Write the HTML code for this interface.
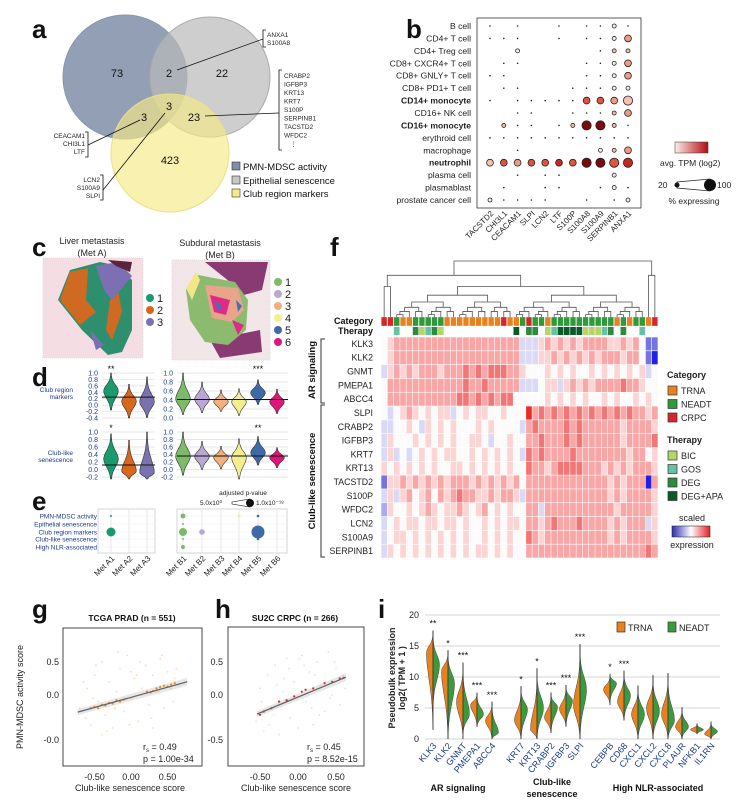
<!DOCTYPE html>
<html><head><meta charset="utf-8">
<style>
html,body{margin:0;padding:0;background:#fff;}
svg{display:block;font-family:"Liberation Sans",Arial,sans-serif;}
</style></head>
<body>
<svg id="fig" width="741" height="802" viewBox="0 0 741 802" xmlns="http://www.w3.org/2000/svg">
<rect x="0" y="0" width="741" height="802" fill="#fff"/>
<!-- panel letters -->
<g font-weight="bold" font-size="26" fill="#111">
<text x="32" y="38">a</text>
<text x="406" y="38">b</text>
<text x="32" y="256">c</text>
<text x="330" y="256">f</text>
<text x="32" y="386">d</text>
<text x="32" y="510">e</text>
<text x="32" y="618">g</text>
<text x="215" y="618">h</text>
<text x="378" y="618">i</text>
</g>

<!-- Panel a: Venn -->
<g id="venn">
<circle cx="125" cy="77" r="62" fill="#7f8ea8" fill-opacity="0.85" stroke="#8a96ab"/>
<circle cx="210" cy="77" r="60" fill="#b9b9b9" fill-opacity="0.7" stroke="#aaa"/>
<circle cx="170" cy="153" r="59" fill="#f6ea86" fill-opacity="0.65" stroke="#eadf88"/>
<g font-size="11" text-anchor="middle" fill="#111">
<text x="117" y="77">73</text>
<text x="169" y="77">2</text>
<text x="222" y="77">22</text>
<text x="144" y="121">3</text>
<text x="169" y="110">3</text>
<text x="194" y="121">23</text>
<text x="170" y="164">423</text>
</g>
<g stroke="#111" stroke-width="0.8" fill="none">
<line x1="177" y1="70" x2="263" y2="39"/><path d="M266,30 H263 V47 H266"/>
<line x1="205" y1="116" x2="279" y2="113"/><path d="M282,70 H279 V150 H282"/>
<line x1="140" y1="120" x2="88" y2="145"/><path d="M85,132 H88 V157 H85"/>
<line x1="165" y1="113" x2="103" y2="190"/><path d="M100,175 H103 V200 H100"/>
</g>
<g font-size="6.5" fill="#222">
<text x="267" y="37">ANXA1</text><text x="267" y="45">S100A8</text>
<text x="284" y="78">CRABP2</text><text x="284" y="86.5">IGFBP3</text><text x="284" y="95">KRT13</text><text x="284" y="103.5">KRT7</text><text x="284" y="112">S100P</text><text x="284" y="120.5">SERPINB1</text><text x="284" y="129">TACSTD2</text><text x="284" y="137.5">WFDC2</text><text x="290" y="146">⋮</text>
<g text-anchor="end"><text x="85" y="138">CEACAM1</text><text x="85" y="146">CHI3L1</text><text x="85" y="154">LTF</text>
<text x="100" y="182">LCN2</text><text x="100" y="190">S100A9</text><text x="100" y="198">SLPI</text></g>
</g>
<g font-size="9.5" fill="#111">
<rect x="232" y="162" width="8" height="8" fill="#7f8ea8" stroke="#333" stroke-width="0.6"/><text x="243" y="170">PMN-MDSC activity</text>
<rect x="232" y="176" width="8" height="8" fill="#c6c6c6" stroke="#333" stroke-width="0.6"/><text x="243" y="184">Epithelial senescence</text>
<rect x="232" y="189" width="8" height="8" fill="#f6ea86" stroke="#333" stroke-width="0.6"/><text x="243" y="197">Club region markers</text>
</g>
</g>

<!-- Panel b -->
<g id="dotplot">
<rect x="477" y="18" width="164" height="190" fill="none" stroke="#333" stroke-width="0.8"/>
<g id="bRows" font-size="8.6" text-anchor="end" fill="#222"></g>
<g id="bCols" font-size="8" fill="#222"></g>
<g id="bDots"></g>
<defs><linearGradient id="tpm" x1="0" x2="1"><stop offset="0" stop-color="#fbeeea"/><stop offset="1" stop-color="#b30d10"/></linearGradient>
<linearGradient id="scl" x1="0" x2="1"><stop offset="0" stop-color="#2a2ab0"/><stop offset="0.5" stop-color="#fff"/><stop offset="1" stop-color="#e61e24"/></linearGradient></defs>
<rect x="675" y="142" width="33" height="11" fill="url(#tpm)" stroke="#333" stroke-width="0.5"/>
<text x="660" y="166" font-size="8.5" fill="#222">avg. TPM (log2)</text>
<text x="658" y="188" font-size="8.5" fill="#222">20</text>
<path d="M677,182 L710,179 L710,191 L677,188 Z" fill="none" stroke="#222" stroke-width="0.7"/>
<circle cx="677" cy="185" r="2.5" fill="#111"/>
<circle cx="710" cy="185" r="6" fill="#111"/>
<text x="717" y="188" font-size="8.5" fill="#222">100</text>
<text x="694" y="204" font-size="8.5" fill="#222" text-anchor="middle">% expressing</text>
</g>

<!-- Panel c -->
<g id="tissue">
<g font-size="9" fill="#222" text-anchor="middle">
<text x="92" y="244">Liver metastasis</text><text x="92" y="256">(Met A)</text>
<text x="220" y="246">Subdural metastasis</text><text x="220" y="258">(Met B)</text>
</g>
<rect x="43" y="258" width="100" height="100" fill="#f4dde3" stroke="#ddd" stroke-dasharray="1,1"/>
<path d="M58,300 L70,270 L100,262 L118,266 L132,280 L132,330 L122,352 L108,355 L82,330 Z" fill="#2e8f6e"/>
<path d="M60,300 L70,272 L88,268 L86,300 L96,312 L80,325 Z M110,300 L118,290 L122,312 L112,340 L106,330 Z" fill="#d06a22"/>
<path d="M96,266 L118,262 L132,276 L112,300 L104,290 Z M90,330 L104,345 L96,350 Z" fill="#7d6fb4"/>
<path d="M108,260 L132,262 L130,272 L116,266 Z" fill="#5a2440"/>
<rect x="172" y="260" width="98" height="100" fill="#f2e6e8" stroke="#ddd" stroke-dasharray="1,1"/>
<path d="M205,262 L268,262 L262,290 L244,295 L230,282 Z M210,340 L260,330 L262,352 L220,358 Z" fill="#8a3a72"/>
<path d="M186,290 L198,275 L235,282 L248,300 L246,330 L228,345 L205,342 L190,320 Z" fill="#8cba6e"/>
<path d="M186,288 L196,272 L200,280 L192,300 Z" fill="#f3e68a"/>
<path d="M205,285 L238,288 L244,310 L232,322 L212,318 Z" fill="#e8a58a"/>
<path d="M210,295 L230,300 L226,315 L214,312 Z M232,320 L244,325 L238,335 Z" fill="#e02a8a"/>
<path d="M215,300 L222,306 L218,312 Z M236,300 L242,306 L238,312 Z" fill="#4a6eb0"/>
<g id="cLeg" font-size="11" fill="#222"></g>
</g>

<!-- Panel d -->
<g id="violins">
<g font-size="6.5" fill="#1a3a8a" text-anchor="end">
<text x="73" y="392">Club region</text><text x="73" y="399">markers</text>
<text x="73" y="455">Club-like</text><text x="73" y="462">senescence</text>
</g>
</g>
<!-- Panel e -->
<g id="bubbles">
<text x="243" y="495" font-size="6.5" fill="#222" text-anchor="middle">adjusted p-value</text>
<text x="200" y="505" font-size="6.5" fill="#222">5.0x10⁰</text>
<path d="M232,502 L250,499 L250,507 L232,504 Z" fill="none" stroke="#111" stroke-width="0.6"/>
<circle cx="250" cy="503" r="4" fill="#111"/>
<text x="256" y="505" font-size="6.5" fill="#222">1.0x10⁻¹⁸</text>
</g>

<!-- Panel f -->
<g id="heat">
<text x="373" y="324" font-size="9" font-weight="bold" text-anchor="end" fill="#111">Category</text>
<text x="373" y="334" font-size="9" font-weight="bold" text-anchor="end" fill="#111">Therapy</text>
<path d="M325,339 H321 V403 H325" fill="none" stroke="#333" stroke-width="1"/>
<path d="M325,405 H321 V557 H325" fill="none" stroke="#333" stroke-width="1"/>
<text transform="translate(315,370) rotate(-90)" font-size="9.5" font-weight="bold" text-anchor="middle" fill="#111">AR signaling</text>
<text transform="translate(315,481) rotate(-90)" font-size="9.5" font-weight="bold" text-anchor="middle" fill="#111">Club-like senescence</text>
<g id="hRows" font-size="8.8" text-anchor="end" fill="#222"></g>
<g id="hCells"></g><g id="hDend" stroke="#555" stroke-width="0.8" fill="none"></g>
<g id="hLeg" font-size="9" fill="#222">
<text x="667" y="378" font-weight="bold">Category</text>
<text x="667" y="443" font-weight="bold">Therapy</text>
<text x="692" y="521" text-anchor="middle">scaled</text>
<rect x="672" y="526" width="38" height="11" fill="url(#scl)" stroke="#333" stroke-width="0.6"/>
<text x="692" y="548" text-anchor="middle">expression</text>
</g>
</g>

<!-- Panel g/h -->
<g id="scatters">
<text x="132" y="621" font-size="8.5" font-weight="bold" text-anchor="middle" fill="#111">TCGA PRAD (n = 551)</text>
<text x="295" y="621" font-size="8.5" font-weight="bold" text-anchor="middle" fill="#111">SU2C CRPC (n = 266)</text>
<rect x="63" y="628" width="139" height="138" fill="none" stroke="#333" stroke-width="0.9"/>
<rect x="228" y="627" width="136" height="139" fill="none" stroke="#333" stroke-width="0.9"/>
<text transform="translate(23,697) rotate(-90)" font-size="9" text-anchor="middle" fill="#222">PMN-MDSC activity score</text>
<text x="130" y="791" font-size="9" text-anchor="middle" fill="#222">Club-like senescence score</text>
<text x="296" y="791" font-size="9" text-anchor="middle" fill="#222">Club-like senescence score</text>
<g font-size="9" fill="#222">
<text x="143" y="750">r<tspan font-size="6" dy="2">s</tspan><tspan dy="-2"> = 0.49</tspan></text>
<text x="143" y="762">p = 1.00e-34</text>
<text x="307" y="750">r<tspan font-size="6" dy="2">s</tspan><tspan dy="-2"> = 0.45</tspan></text>
<text x="307" y="762">p = 8.52e-15</text>
</g>
<g id="gPlot"></g><g id="hPlot"></g>
</g>

<!-- Panel i -->
<g id="split">
<text transform="translate(395,678) rotate(-90)" font-size="9" font-weight="bold" text-anchor="middle" fill="#222">Pseudobulk expression</text>
<text transform="translate(405,678) rotate(-90)" font-size="9" font-weight="bold" text-anchor="middle" fill="#222">log2( TPM + 1 )</text>
<g font-size="9" font-weight="bold" text-anchor="middle" fill="#111">
<text x="458" y="791">AR signaling</text>
<text x="552" y="785">Club-like</text><text x="552" y="797">senescence</text>
<text x="658" y="791">High NLR-associated</text>
</g>
<rect x="617" y="622" width="8" height="10" fill="#e8821e" stroke="#333" stroke-width="0.7"/>
<text x="628" y="631" font-size="9" fill="#222">TRNA</text>
<rect x="668" y="622" width="8" height="10" fill="#3c9a3e" stroke="#333" stroke-width="0.7"/>
<text x="679" y="631" font-size="9" fill="#222">NEADT</text>
<g id="iPlot"></g>
</g>
</svg>

<script>
var NS='http://www.w3.org/2000/svg';
function mk(tag,attrs,parent){var e=document.createElementNS(NS,tag);for(var k in attrs)e.setAttribute(k,attrs[k]);(parent||document.getElementById('fig')).appendChild(e);return e;}

// ===== Panel b data =====
var bCells=['B cell','CD4+ T cell','CD4+ Treg cell','CD8+ CXCR4+ T cell','CD8+ GNLY+ T cell','CD8+ PD1+ T cell','CD14+ monocyte','CD16+ NK cell','CD16+ monocyte','erythroid cell','macrophage','neutrophil','plasma cell','plasmablast','prostate cancer cell'];
bCells.splice(0,0);
var bCellsAll=['B cell','CD4+ T cell','CD4+ Treg cell','CD8+ CXCR4+ T cell','CD8+ GNLY+ T cell','CD8+ PD1+ T cell','CD14+ monocyte','CD16+ NK cell','CD16+ monocyte','erythroid cell','macrophage','neutrophil','plasma cell','plasmablast','prostate cancer cell'];
var bBold=['CD14+ monocyte','CD16+ monocyte','neutrophil'];
var bGenes=['TACSTD2','CHI3L1','CEACAM1','SLPI','LCN2','LTF','S100P','S100A8','S100A9','SERPINB1','ANXA1'];
var bSize=['10100101121','11100101123','00200000122','01100001123','11000001123','01100011122','10111113334','00110011123','02110124421','11111111111','00100000223','33333334444','00101100020','01001100121','21111001012'];
var bColor=['00000000000','00000000002','00000000011','00000000002','00000000002','00000000000','00000003321','00000000012','01000015510','00000000000','00000000012','13233435534','00000000000','00000000000','00000000000'];
var bPal=['#fbeee9','#f5c0ad','#f09a80','#e2533e','#c9261d','#7a0a0e'];
var bRad=[0,0.8,2,3.4,4.6,5.6];
function bx(j){return 490+j*13.8;}
function by(i){return 26+i*(174/(bCellsAll.length-1));}
(function(){
 var gr=document.getElementById('bRows'),gc=document.getElementById('bCols'),gd=document.getElementById('bDots');
 bCellsAll.forEach(function(c,i){
  var t=mk('text',{x:471,y:by(i)+3},gr);t.textContent=c;
  if(bBold.indexOf(c)>=0)t.setAttribute('font-weight','bold');
  
  
  for(var j=0;j<bGenes.length;j++){
   var s=+bSize[i][j],col=+bColor[i][j];if(!s)continue;
   var d=mk('circle',{cx:bx(j),cy:by(i),r:bRad[s],fill:s==1?'#222':bPal[col],stroke:'#222','stroke-width':s==1?0:0.8},gd);
   
   
  }
 });
 bGenes.forEach(function(g,j){
  var t=mk('text',{transform:'translate('+(bx(j)+4)+',214) rotate(-45)','text-anchor':'end'},gc);t.textContent=g;
  
  
 });
})();

// ===== Panel c legend =====
var cLabelsA=['1','2','3'],cColA=['#1a9a6e','#d8661b','#7a72b0'];
var cLabelsB=['1','2','3','4','5','6'],cColB=['#7dba6a','#b9a8d2','#f2b07e','#f5ee90','#3e6aa8','#e0147a'];
(function(){var g=document.getElementById('cLeg');
 cLabelsA.forEach(function(l,i){var c=mk('circle',{cx:150,cy:298+i*12,r:4,fill:cColA[i]},g);
  
  
  var t=mk('text',{x:157,y:302+i*12},g);t.textContent=l;
  
  });
 cLabelsB.forEach(function(l,i){var c=mk('circle',{cx:278,cy:282+i*12,r:4,fill:cColB[i]},g);
  
  
  var t=mk('text',{x:285,y:286+i*12},g);t.textContent=l;
  
  });
})();

// ===== Panel d data =====
var dTopAMed=[0.45,0.12,0.1],dTopAMin=[-0.15,-0.4,-0.38],dTopAMax=[1.0,0.65,0.88],dTopALine=0.25;
var dTopBMed=[0.42,0.42,0.36,0.36,0.56,0.36],dTopBMin=[0.08,0.12,0.15,0.06,0.3,0.1],dTopBMax=[1.0,0.8,0.62,0.65,0.85,0.64],dTopBLine=0.41;
var dBotAMed=[0.28,-0.05,-0.1],dBotAMin=[-0.25,-0.25,-0.25],dBotAMax=[0.95,0.78,1.0],dBotALine=0.12;
var dBotBMed=[0.35,0.35,0.32,0.32,0.45,0.32],dBotBMin=[-0.15,0.0,0.02,-0.25,0.12,0.05],dBotBMax=[1.0,0.75,0.62,0.82,0.88,0.58],dBotBLine=0.36;
var dTicksA1=['1.0','0.8','0.6','0.4','0.2','0.0','-0.2','-0.4'],dTicksB1=['1.0','0.8','0.6','0.4','0.2','0.0'];
var dTicks2=['1.0','0.8','0.6','0.4','0.2','0.0','-0.2'];
var dStars=[[0,0,'**'],[1,4,'***'],[2,0,'*'],[3,4,'**']];
var dXA=[111,129,147],dXB=[183,202,221,239,258,277];
function violin(g,cx,yf,med,mn,mx,w,fill){
 var pts=[],n=24,i,v,hw;
 for(i=0;i<=n;i++){v=mn+(mx-mn)*i/n;var s=v<med?(med-mn)*0.55:(mx-med)*0.45;hw=w*Math.exp(-Math.pow((v-med)/s,2));pts.push([cx+hw+0.3,yf(v)]);}
 var d='M'+pts.map(function(p){return p[0].toFixed(1)+','+p[1].toFixed(1);}).join(' L');
 for(i=n;i>=0;i--){v=mn+(mx-mn)*i/n;var s2=v<med?(med-mn)*0.55:(mx-med)*0.45;hw=w*Math.exp(-Math.pow((v-med)/s2,2));d+=' L'+(cx-hw-0.3).toFixed(1)+','+yf(v).toFixed(1);}
 return mk('path',{d:d+'Z',fill:fill,stroke:'#333','stroke-width':0.6},g);
}
(function(){var root=document.getElementById('violins');
 var panels=[
  {x0:102,x1:155,lx:98,top:373,bot:418,ticks:dTicksA1,hi:1.0,lo:-0.4,med:dTopAMed,mn:dTopAMin,mx:dTopAMax,line:dTopALine,xs:dXA,col:cColA},
  {x0:177,x1:288,lx:173,top:373,bot:418,ticks:dTicksB1,hi:1.0,lo:0.0,med:dTopBMed,mn:dTopBMin,mx:dTopBMax,line:dTopBLine,xs:dXB,col:cColB},
  {x0:102,x1:155,lx:98,top:432,bot:477,ticks:dTicks2,hi:1.0,lo:-0.2,med:dBotAMed,mn:dBotAMin,mx:dBotAMax,line:dBotALine,xs:dXA,col:cColA},
  {x0:177,x1:288,lx:173,top:432,bot:477,ticks:dTicks2,hi:1.0,lo:-0.2,med:dBotBMed,mn:dBotBMin,mx:dBotBMax,line:dBotBLine,xs:dXB,col:cColB}];
 panels.forEach(function(p,pi){
  var g=mk('g',{},root);
  
  
  var yf=function(v){return p.bot-(v-p.lo)/(p.hi-p.lo)*(p.bot-p.top);};
  p.ticks.forEach(function(t){var v=parseFloat(t),y=yf(v);
   var l=mk('line',{x1:p.x0,x2:p.x1,y1:y,y2:y,stroke:'#ddd','stroke-width':0.7},g);
   
   
   var tx=mk('text',{x:p.lx,y:y+2.5,'font-size':7,'text-anchor':'end',fill:'#1a3a8a'},g);tx.textContent=t;
   
   });
  p.med.forEach(function(m,k){var v=violin(g,p.xs[k],yf,m,p.mn[k],p.mx[k],7,p.col[k]);
   
   });
  var hl=mk('line',{x1:p.x0,x2:p.x1,y1:yf(p.line),y2:yf(p.line),stroke:'#111','stroke-width':1},g);
  
  
 });
 dStars.forEach(function(s){var p=panels[s[0]];var t=mk('text',{x:p.xs[s[1]],y:p.top-1,'font-size':9,'text-anchor':'middle',fill:'#111'},root);t.textContent=s[2];
  
  });
})();

// ===== Panel e data =====
var eRows=['PMN-MDSC activity','Epithelial senescence','Club region markers','Club-like senescence','High NLR-associated'];
var eColsA=['Met A1','Met A2','Met A3'],eColsB=['Met B1','Met B2','Met B3','Met B4','Met B5','Met B6'];
var eBubA=[[0,0,1],[0,2,4.5]];
var eBubB=[[0,0,2.5],[0,1,1],[0,2,4],[0,3,1],[0,4,2],[1,2,2.8],[3,0,1.5],[4,0,1.3],[4,2,6.5],[4,3,1.3]];
var eRowY=[516,524,532,539,547];
(function(){var root=document.getElementById('bubbles');
 function grid(x0,x1,xs,cols,bub,pal){
  var g=mk('g',{},root);
  
  
  var fr=mk('rect',{x:x0,y:509,width:x1-x0,height:44,fill:'none',stroke:'#ccc','stroke-width':0.8},g);
  
  
  xs.forEach(function(x){var l=mk('line',{x1:x,x2:x,y1:509,y2:553,stroke:'#e2e2e2','stroke-width':0.8},g);});
  eRowY.forEach(function(y){var l=mk('line',{x1:x0,x2:x1,y1:y,y2:y,stroke:'#ececec','stroke-width':0.6},g);});
  bub.forEach(function(b){var c=mk('circle',{cx:xs[b[0]],cy:eRowY[b[1]],r:b[2],fill:pal[b[0]]},g);});
  cols.forEach(function(c,i){var t=mk('text',{transform:'translate('+(xs[i]+4)+',559) rotate(-45)','font-size':8,'text-anchor':'end',fill:'#222'},g);t.textContent=c;});
 }
 grid(98,155,dXA,eColsA,eBubA,cColA);
 grid(177,287,dXB,eColsB,eBubB,cColB);
 eRows.forEach(function(r,i){var t=mk('text',{x:97,y:eRowY[i]+2.5,'font-size':6.5,'text-anchor':'end',fill:'#1a3a8a'},root);t.textContent=r;});
})();

// ===== Panel f data =====
var hGenes=['KLK3','KLK2','GNMT','PMEPA1','ABCC4','SLPI','CRABP2','IGFBP3','KRT7','KRT13','TACSTD2','S100P','WFDC2','LCN2','S100A9','SERPINB1'];
var hVals=[
'45666666666'+'66666666666'+'33356565656'+'66655656411',
'45666666666'+'66666666666'+'33355656565'+'65666566410',
'35656566656'+'66767677766'+'54445454544'+'54545454534',
'46666666666'+'66766766666'+'33345535656'+'56666766544',
'46666666666'+'67767676774'+'44445454545'+'44545445454',
'43456545455'+'34545544544'+'48676767676'+'76767676656',
'33445435454'+'54445454444'+'36766667676'+'66666566665',
'35444545454'+'54455434454'+'46676667676'+'66666566667',
'35343454545'+'54454545454'+'37676666766'+'66666656645',
'54545454544'+'55454545454'+'47665677776'+'66565656665',
'15565656565'+'66656565656'+'46666666666'+'66656566606',
'35356456465'+'67665565665'+'36666666666'+'66656566665',
'25445456545'+'56545645454'+'46636666666'+'66665666665',
'34545545545'+'54544545455'+'46656766676'+'66656566635',
'34554545454'+'54544545454'+'47656666666'+'66656566665',
'35454545454'+'54545545454'+'46666666666'+'66666666676'];
var hCategory='RRGOOGGGGGOOOOOOOOOROOGRGGOGGGGGGGGGGOGOGGOR';
var hTherapy='--G--ELGEL-----------D-EE-LGDDDDLLLGE-E--G--';
var hCatNames=['TRNA','NEADT','CRPC'],hCatKeys=['O','G','R'],hCatCol=['#e8821e','#2f9a3a','#d7262b'];
var hTherNames=['BIC','GOS','DEG','DEG+APA'],hTherKeys=['L','G','E','D'],hTherCol=['#b5d56a','#66c2a5','#2e8b3e','#0b5a2a'];
var hScale=['#2020e8','#7474e2','#aaaaee','#dadaf6','#fbfbfb','#fcd4d4','#f8a6a6','#f27676','#ec2a2a'];
var hTopSplits=[[0,41,42,43],[0,1,2,41],[2,20,21,41]];
var hN=44,hX0=381,hX1=658,hY0=337,hY1=558;
function hx(j){return hX0+j*(hX1-hX0)/hN;}
function hy(i){return hY0+i*(hY1-hY0)/hGenes.length;}
(function(){
 var gc=document.getElementById('hCells'),gr=document.getElementById('hRows'),cw=(hX1-hX0)/hN,rh=(hY1-hY0)/hGenes.length;
 hGenes.forEach(function(g,i){var t=mk('text',{x:373,y:hy(i)+rh/2+3},gr);t.textContent=g;
  for(var j=0;j<hN;j++){var c=mk('rect',{x:hx(j)+0.3,y:hy(i)+0.3,width:cw-0.6,height:rh-0.6,fill:hScale[+hVals[i][j]]},gc);
   
   }
 });
 for(var j=0;j<hN;j++){
  var k=hCatKeys.indexOf(hCategory[j]);
  var c=mk('rect',{x:hx(j)+0.3,y:317,width:cw-0.6,height:9,fill:hCatCol[k],stroke:'#fff','stroke-width':0.3},gc);
  
  
  var tk=hTherKeys.indexOf(hTherapy[j]);
  if(tk>=0){var t2=mk('rect',{x:hx(j)+0.3,y:327,width:cw-0.6,height:8,fill:hTherCol[tk]},gc);
   
   }
 }
 // dendrogram
 var gd=document.getElementById('hDend');
 function seg(d){var p=mk('path',{d:d},gd);}
 var topMap={};hTopSplits.forEach(function(s){topMap[s[0]+'-'+s[3]]=s;});
 function node(lo,hi,y){
  if(lo==hi)return hx(lo)+cw/2;
  var s=topMap[lo+'-'+hi],m=s?s[1]:Math.floor((lo+hi)/2);
  var cy=y+(317-y)*0.22+2;
  var a=node(lo,m,cy),b=node(m+1,hi,cy);
  var ya=(lo==m)?317:cy,yb=(m+1==hi)?317:cy;
  seg('M'+a+','+ya+' V'+y+' H'+b+' V'+yb);
  return (a+b)/2;
 }
 node(0,hN-1,261);
 var gl=document.getElementById('hLeg');
 hCatNames.forEach(function(n,i){var r=mk('rect',{x:668,y:386+i*13.5,width:9,height:9,fill:hCatCol[i],stroke:'#333','stroke-width':0.7},gl);
  var t=mk('text',{x:681,y:394+i*13.5},gl);t.textContent=n;});
 hTherNames.forEach(function(n,i){var r=mk('rect',{x:668,y:451+i*13.5,width:9,height:9,fill:hTherCol[i],stroke:'#333','stroke-width':0.7},gl);
  var t=mk('text',{x:681,y:459+i*13.5},gl);t.textContent=n;});
})();

// ===== Panel g / h data =====
var gCloudX=[-0.7,-0.6,-0.55,-0.5,-0.45,-0.4,-0.35,-0.3,-0.25,-0.2,-0.15,-0.1,-0.05,0,0.05,0.1,0.15,0.2,0.25,0.3,0.35,0.4,0.45,0.5,0.55,0.6,0.65,-0.62,-0.48,-0.33,-0.18,-0.02,0.12,0.28,0.42,0.58,-0.52,-0.22,0.08,0.38,-0.4,0.0,0.3,0.62,-0.65];
var gCloudY=[-0.2,0.1,-0.45,0.3,-0.1,0.5,-0.3,0.2,-0.5,0.05,0.4,-0.25,0.6,-0.05,0.25,-0.4,0.1,0.45,-0.15,0.3,0.05,0.55,-0.2,0.35,0.1,0.25,0.15,-0.35,0.45,-0.55,0.65,-0.45,0.5,-0.35,0.6,-0.1,-0.05,-0.2,0.3,0.05,-0.6,0.35,-0.5,0.4,0.2];
var gHiX=[-0.55,-0.5,-0.45,-0.4,-0.35,-0.3,-0.25,-0.2,-0.15,-0.1,0.22,0.27,0.3,0.35,0.4,0.45,0.5,0.55,0.6];
var gHiY=[-0.2,-0.18,-0.2,-0.15,-0.16,-0.12,-0.13,-0.08,-0.1,-0.07,0.05,0.04,0.06,0.1,0.12,0.14,0.13,0.16,0.18];
var gLineX=[-0.73,0.77],gLineY=[-0.26,0.2];
var hCloudX=[-0.55,-0.5,-0.45,-0.4,-0.35,-0.3,-0.25,-0.2,-0.15,-0.1,-0.05,0,0.05,0.1,0.15,0.2,0.25,0.3,0.35,0.4,0.45,0.5,0.55,0.6,-0.48,-0.32,-0.12,0.08,0.28,0.48,-0.38,-0.18,0.02,0.22,0.42,0.62,-0.28,0.18];
var hCloudY=[-0.4,0.1,-0.55,0.3,-0.2,0.45,-0.6,0.05,0.55,-0.35,0.2,-0.5,0.6,-0.1,0.35,-0.45,0.5,0.15,-0.25,0.65,0.0,0.4,-0.15,0.3,-0.1,-0.3,0.4,0.45,-0.3,0.5,-0.45,0.25,0.55,0.3,-0.05,0.1,0.15,-0.2];
var hHiX=[-0.5,-0.45,-0.35,-0.25,-0.15,-0.05,0.05,0.1,0.2,0.35,0.45,0.55,0.6];
var hHiY=[-0.3,-0.25,-0.2,-0.1,-0.08,-0.02,0.05,0.08,0.1,0.18,0.2,0.25,0.26];
var hLineX=[-0.54,0.63],hLineY=[-0.29,0.27];
var gXTicks=['-0.50','0.00','0.50'],gYTicks=['0.5','0.0','-0.0'],hYTicks=['0.5','0.0','-0.5'];
function scatter(gid,cx0,xs,cy0,ys,cloudX,cloudY,hiX,hiY,lx,ly,col,hiCol,xt,yt,ylx,frameX0,frameX1,tickYpos){
 var g=document.getElementById(gid);
 var X=function(v){return cx0+v*xs;},Y=function(v){return cy0-v*ys;};
 cloudX.forEach(function(v,i){var c=mk('circle',{cx:X(v),cy:Y(cloudY[i]),r:0.9,fill:col,'fill-opacity':0.45},g);});
 var band=mk('path',{d:'M'+X(lx[0])+','+(Y(ly[0])-3)+' L'+X(lx[1])+','+(Y(ly[1])-4)+' L'+X(lx[1])+','+(Y(ly[1])+4)+' L'+X(lx[0])+','+(Y(ly[0])+3)+'Z',fill:'#bbb','fill-opacity':0.35},g);
 
 
 hiX.forEach(function(v,i){var c=mk('circle',{cx:X(v),cy:Y(hiY[i]),r:1.1,fill:hiCol},g);});
 var l=mk('line',{x1:X(lx[0]),y1:Y(ly[0]),x2:X(lx[1]),y2:Y(ly[1]),stroke:'#666','stroke-width':1.3},g);
 
 
 xt.forEach(function(t){var tx=mk('text',{x:X(parseFloat(t)),y:780,'font-size':9,'text-anchor':'middle',fill:'#222'},g);tx.textContent=t;});
 yt.forEach(function(t,i){var tx=mk('text',{x:ylx,y:tickYpos[i]+3,'font-size':9,'text-anchor':'end',fill:'#222'},g);tx.textContent=t;});
}
scatter('gPlot',131,73,695,66,gCloudX,gCloudY,gHiX,gHiY,gLineX,gLineY,'#f7a55a','#f08a1c',gXTicks,gYTicks,59,63,202,[662,695,740]);
scatter('hPlot',298,76,695,66,hCloudX,hCloudY,hHiX,hHiY,hLineX,hLineY,'#f2a0b0','#e0243a',gXTicks,hYTicks,223,228,364,[662,695,740]);

// ===== Panel i data =====
var iGenes=['KLK3','KLK2','GNMT','PMEPA1','ABCC4','KRT7','KRT13','CRABP2','IGFBP3','SLPI','CEBPB','CD68','CXCL1','CXCL2','CXCL8','PLAUR','NFKB1','IL1RN'];
var iGeneX=[433,448,463,477,492,521,537,551,566,580,610,624,638,653,668,682,697,711];
var iTrnaMin=[1.5,0,0,2,0,0,0,1,2,0,5.5,3,0,0,0,0,0.8,0];
var iTrnaMed=[14,11,6,5.5,3,3,1.5,3.5,4.8,5.5,8,6,4,5,4,2,1.5,0.8];
var iTrnaMax=[17.5,14.3,12.3,7.5,6,8.5,11.4,7.5,8.7,15.3,10.5,11,8.6,10.3,10.6,5.1,2.5,2.8];
var iNeadtMin=[5,0,1,2,0,0,0,1,2,0,6,3,0,0,0,0,0.8,0];
var iNeadtMed=[12,9,4,4,1,4.8,5,5.2,6.2,8,9,7,4,4.5,3,2,1.5,1.2];
var iNeadtMax=[17.5,14.3,12.3,7.5,6,8.5,11.4,7.5,8.7,15.3,10.5,11,8.6,10.3,10.6,5.1,2.5,2.8];
var iStars=['**','*','***','***','***','*','*','***','***','***','*','***','','','','','',''];
var iTicks=['0','5','10','15','20'];
function yi(v){return 739-v*6.2;}
(function(){var g=document.getElementById('iPlot');
 iTicks.forEach(function(t){var y=yi(+t);
  var l=mk('line',{x1:425,x2:720,y1:y,y2:y,stroke:'#ddd','stroke-width':1.2},g);
  var tx=mk('text',{x:419,y:y+3,'font-size':9,'text-anchor':'end',fill:'#222'},g);tx.textContent=t;});
 function half(cx,mn,med,mx,side,fill){
  var n=24,d='M'+cx+','+yi(mn);
  for(var i=0;i<=n;i++){var v=mn+(mx-mn)*i/n;var s=v<med?Math.max(med-mn,0.5)*0.5:Math.max(mx-med,0.5)*0.4;var hw=6.5*Math.exp(-Math.pow((v-med)/s,2));d+=' L'+(cx+side*hw).toFixed(1)+','+yi(v).toFixed(1);}
  d+=' L'+cx+','+yi(mx)+'Z';
  return mk('path',{d:d,fill:fill,stroke:'#444','stroke-width':0.5},g);
 }
 iGenes.forEach(function(gn,k){var x=iGeneX[k];
  var a=half(x,iTrnaMin[k],iTrnaMed[k],iTrnaMax[k],-1,'#e8821e');
  var b=half(x,iNeadtMin[k],iNeadtMed[k],iNeadtMax[k],1,'#3c9a3e');
  var ln=mk('line',{x1:x,x2:x,y1:yi(Math.min(iTrnaMin[k],iNeadtMin[k])),y2:yi(Math.max(iTrnaMax[k],iNeadtMax[k])),stroke:'#333','stroke-width':0.7},g);
  
  
  if(iStars[k]){var st=mk('text',{x:x,y:yi(Math.max(iTrnaMax[k],iNeadtMax[k]))-4,'font-size':9,'text-anchor':'middle',fill:'#111'},g);st.textContent=iStars[k];}
  var t=mk('text',{transform:'translate('+(x+4)+',746) rotate(-50)','font-size':9,'text-anchor':'end',fill:'#1a3a8a'},g);t.textContent=gn;
  
  
 });
})();
</script>
</body></html>
